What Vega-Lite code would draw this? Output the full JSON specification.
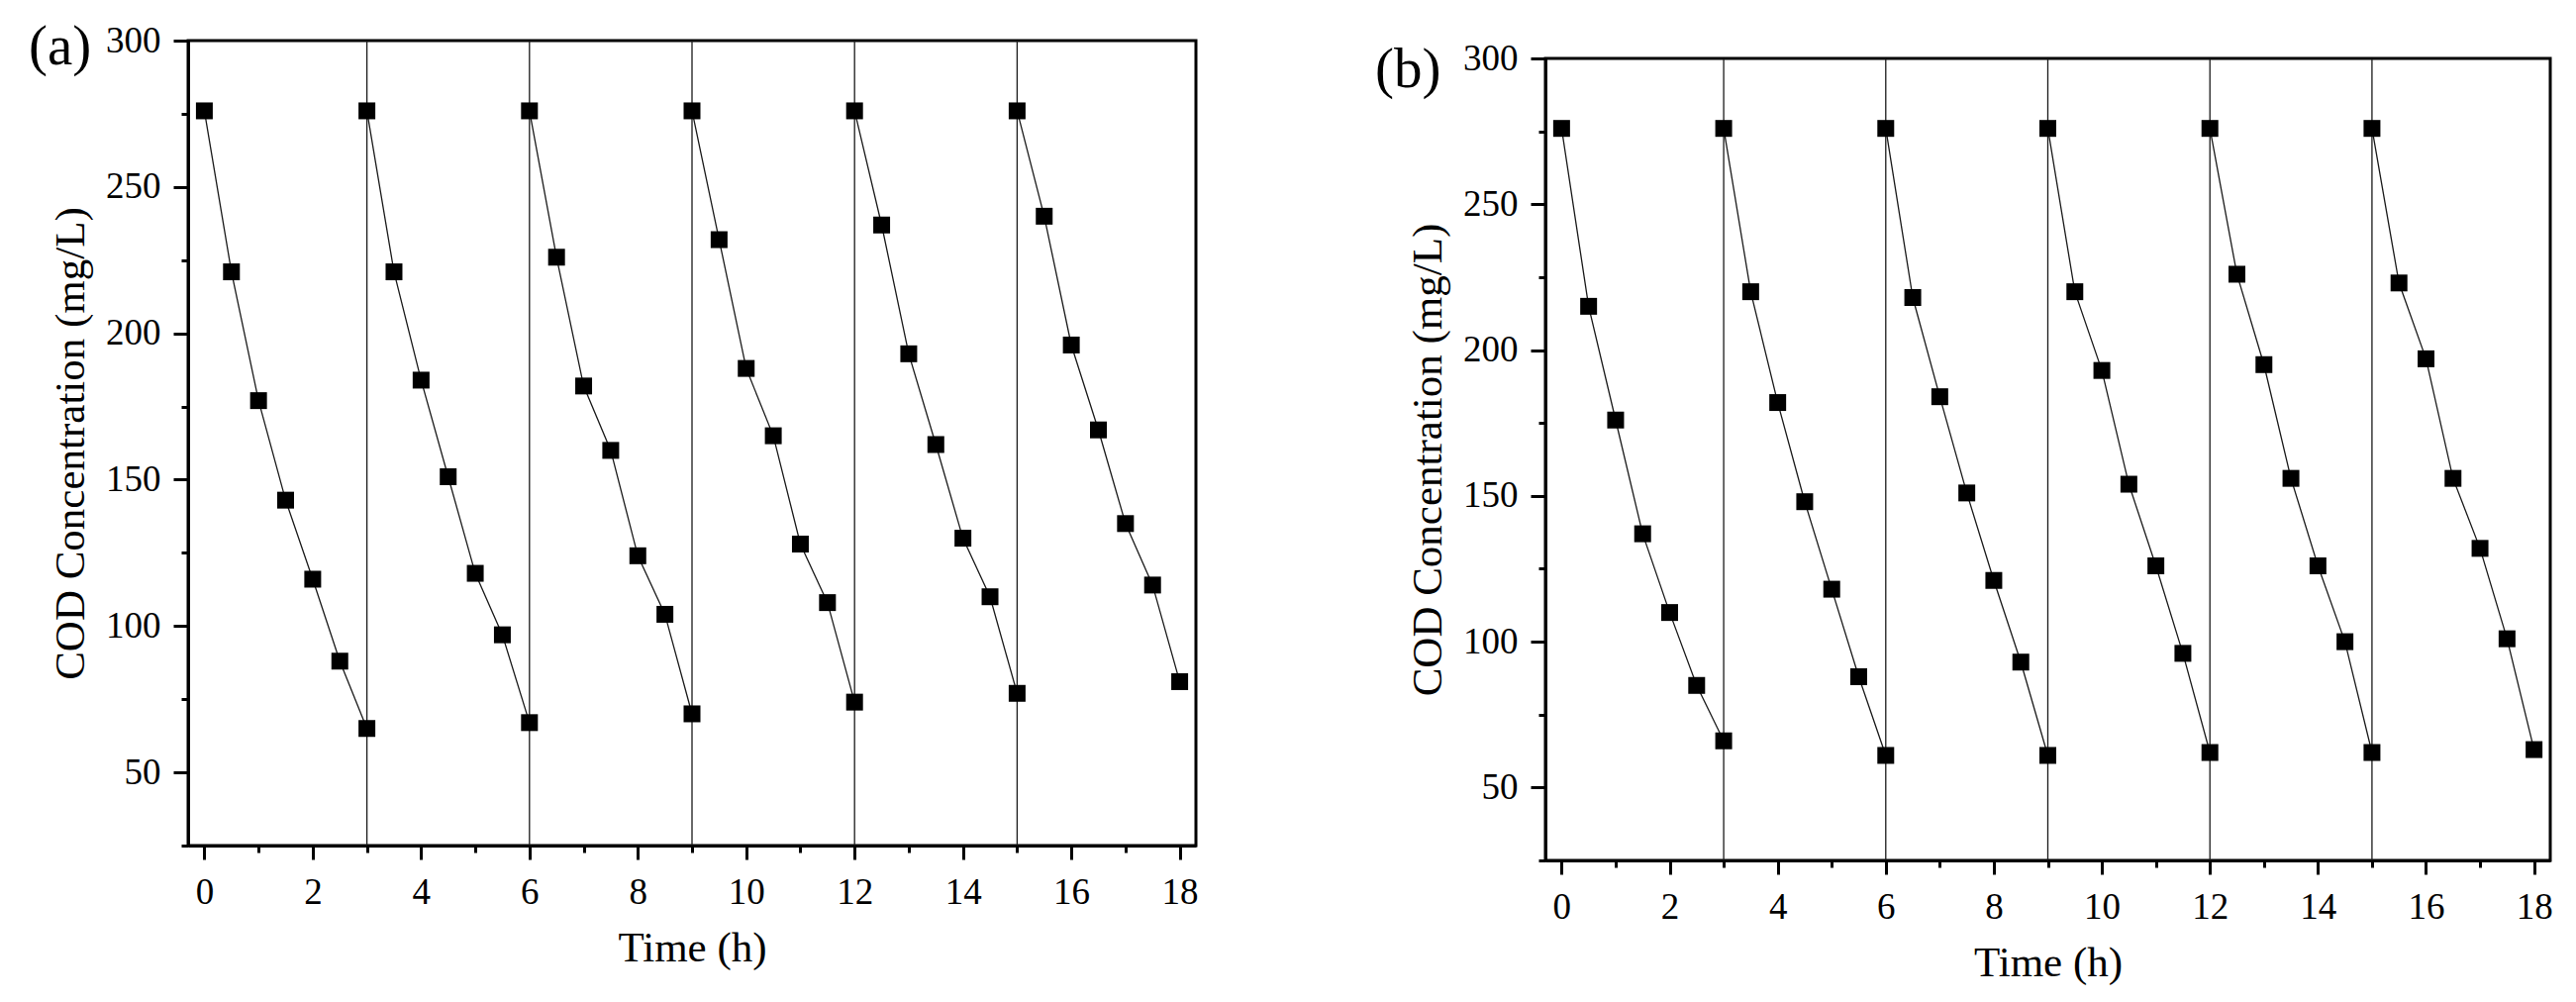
{
  "$schema": "https://vega.github.io/schema/vega-lite/v6.json",
  "background": "white",
  "padding": {"left": 27, "top": 17, "right": 20, "bottom": 10},
  "bounds": "flush",
  "spacing": 353,
  "config": {
    "font": "Liberation Serif",
    "view": {"stroke": "black", "strokeWidth": 3},
    "axis": {
      "domainColor": "black", "domainWidth": 3,
      "tickColor": "black", "tickWidth": 3,
      "grid": false,
      "labelFont": "Liberation Serif", "labelFontSize": 37, "labelColor": "black",
      "titleFont": "Liberation Serif", "titleFontSize": 43, "titleFontWeight": "normal", "titleColor": "black",
      "labelOverlap": false, "labelFlush": false, "labelBound": false
    },
    "title": {"font": "Liberation Serif", "fontSize": 57, "fontWeight": "normal", "color": "black", "anchor": "start", "frame": "group", "baseline": "alphabetic"}
  },
  "datasets": {
    "cod": [
      {"panel": "a", "cycle": 1, "t": 0, "cod": 276}, {"panel": "a", "cycle": 1, "t": 0.5, "cod": 221}, {"panel": "a", "cycle": 1, "t": 1, "cod": 177}, {"panel": "a", "cycle": 1, "t": 1.5, "cod": 143}, {"panel": "a", "cycle": 1, "t": 2, "cod": 116}, {"panel": "a", "cycle": 1, "t": 2.5, "cod": 88}, {"panel": "a", "cycle": 1, "t": 3, "cod": 65},
      {"panel": "a", "cycle": 2, "t": 3, "cod": 276}, {"panel": "a", "cycle": 2, "t": 3.5, "cod": 221}, {"panel": "a", "cycle": 2, "t": 4, "cod": 184}, {"panel": "a", "cycle": 2, "t": 4.5, "cod": 151}, {"panel": "a", "cycle": 2, "t": 5, "cod": 118}, {"panel": "a", "cycle": 2, "t": 5.5, "cod": 97}, {"panel": "a", "cycle": 2, "t": 6, "cod": 67},
      {"panel": "a", "cycle": 3, "t": 6, "cod": 276}, {"panel": "a", "cycle": 3, "t": 6.5, "cod": 226}, {"panel": "a", "cycle": 3, "t": 7, "cod": 182}, {"panel": "a", "cycle": 3, "t": 7.5, "cod": 160}, {"panel": "a", "cycle": 3, "t": 8, "cod": 124}, {"panel": "a", "cycle": 3, "t": 8.5, "cod": 104}, {"panel": "a", "cycle": 3, "t": 9, "cod": 70},
      {"panel": "a", "cycle": 4, "t": 9, "cod": 276}, {"panel": "a", "cycle": 4, "t": 9.5, "cod": 232}, {"panel": "a", "cycle": 4, "t": 10, "cod": 188}, {"panel": "a", "cycle": 4, "t": 10.5, "cod": 165}, {"panel": "a", "cycle": 4, "t": 11, "cod": 128}, {"panel": "a", "cycle": 4, "t": 11.5, "cod": 108}, {"panel": "a", "cycle": 4, "t": 12, "cod": 74},
      {"panel": "a", "cycle": 5, "t": 12, "cod": 276}, {"panel": "a", "cycle": 5, "t": 12.5, "cod": 237}, {"panel": "a", "cycle": 5, "t": 13, "cod": 193}, {"panel": "a", "cycle": 5, "t": 13.5, "cod": 162}, {"panel": "a", "cycle": 5, "t": 14, "cod": 130}, {"panel": "a", "cycle": 5, "t": 14.5, "cod": 110}, {"panel": "a", "cycle": 5, "t": 15, "cod": 77},
      {"panel": "a", "cycle": 6, "t": 15, "cod": 276}, {"panel": "a", "cycle": 6, "t": 15.5, "cod": 240}, {"panel": "a", "cycle": 6, "t": 16, "cod": 196}, {"panel": "a", "cycle": 6, "t": 16.5, "cod": 167}, {"panel": "a", "cycle": 6, "t": 17, "cod": 135}, {"panel": "a", "cycle": 6, "t": 17.5, "cod": 114}, {"panel": "a", "cycle": 6, "t": 18, "cod": 81},
      {"panel": "b", "cycle": 1, "t": 0, "cod": 276}, {"panel": "b", "cycle": 1, "t": 0.5, "cod": 215}, {"panel": "b", "cycle": 1, "t": 1, "cod": 176}, {"panel": "b", "cycle": 1, "t": 1.5, "cod": 137}, {"panel": "b", "cycle": 1, "t": 2, "cod": 110}, {"panel": "b", "cycle": 1, "t": 2.5, "cod": 85}, {"panel": "b", "cycle": 1, "t": 3, "cod": 66},
      {"panel": "b", "cycle": 2, "t": 3, "cod": 276}, {"panel": "b", "cycle": 2, "t": 3.5, "cod": 220}, {"panel": "b", "cycle": 2, "t": 4, "cod": 182}, {"panel": "b", "cycle": 2, "t": 4.5, "cod": 148}, {"panel": "b", "cycle": 2, "t": 5, "cod": 118}, {"panel": "b", "cycle": 2, "t": 5.5, "cod": 88}, {"panel": "b", "cycle": 2, "t": 6, "cod": 61},
      {"panel": "b", "cycle": 3, "t": 6, "cod": 276}, {"panel": "b", "cycle": 3, "t": 6.5, "cod": 218}, {"panel": "b", "cycle": 3, "t": 7, "cod": 184}, {"panel": "b", "cycle": 3, "t": 7.5, "cod": 151}, {"panel": "b", "cycle": 3, "t": 8, "cod": 121}, {"panel": "b", "cycle": 3, "t": 8.5, "cod": 93}, {"panel": "b", "cycle": 3, "t": 9, "cod": 61},
      {"panel": "b", "cycle": 4, "t": 9, "cod": 276}, {"panel": "b", "cycle": 4, "t": 9.5, "cod": 220}, {"panel": "b", "cycle": 4, "t": 10, "cod": 193}, {"panel": "b", "cycle": 4, "t": 10.5, "cod": 154}, {"panel": "b", "cycle": 4, "t": 11, "cod": 126}, {"panel": "b", "cycle": 4, "t": 11.5, "cod": 96}, {"panel": "b", "cycle": 4, "t": 12, "cod": 62},
      {"panel": "b", "cycle": 5, "t": 12, "cod": 276}, {"panel": "b", "cycle": 5, "t": 12.5, "cod": 226}, {"panel": "b", "cycle": 5, "t": 13, "cod": 195}, {"panel": "b", "cycle": 5, "t": 13.5, "cod": 156}, {"panel": "b", "cycle": 5, "t": 14, "cod": 126}, {"panel": "b", "cycle": 5, "t": 14.5, "cod": 100}, {"panel": "b", "cycle": 5, "t": 15, "cod": 62},
      {"panel": "b", "cycle": 6, "t": 15, "cod": 276}, {"panel": "b", "cycle": 6, "t": 15.5, "cod": 223}, {"panel": "b", "cycle": 6, "t": 16, "cod": 197}, {"panel": "b", "cycle": 6, "t": 16.5, "cod": 156}, {"panel": "b", "cycle": 6, "t": 17, "cod": 132}, {"panel": "b", "cycle": 6, "t": 17.5, "cod": 101}, {"panel": "b", "cycle": 6, "t": 18, "cod": 63}
    ],
    "resets": [{"t": 3}, {"t": 6}, {"t": 9}, {"t": 12}, {"t": 15}]
  },
  "hconcat": [
    {
      "width": 1018,
      "height": 813,
      "title": {"text": "(a)", "dx": -161, "dy": 59},
      "layer": [
        {
          "data": {"name": "cod"},
          "transform": [{"filter": "datum.panel === 'a'"}],
          "mark": {"type": "line", "color": "#1a1a1a", "strokeWidth": 1.3},
          "encoding": {
            "x": {"field": "t", "type": "quantitative", "title": "Time (h)",
              "scale": {"domain": [-0.3, 18.3], "nice": false, "zero": false},
              "axis": {"values": [0, 1, 2, 3, 4, 5, 6, 7, 8, 9, 10, 11, 12, 13, 14, 15, 16, 17, 18],
                "tickSize": {"condition": {"test": "datum.value % 2 !== 0", "value": 7}, "value": 14},
                "labelExpr": "datum.value % 2 === 0 ? datum.label : ''",
                "labelPadding": 15, "titlePadding": 17}},
            "y": {"field": "cod", "type": "quantitative", "title": "COD Concentration (mg/L)",
              "scale": {"domain": [25, 300], "nice": false, "zero": false},
              "axis": {"values": [25, 50, 75, 100, 125, 150, 175, 200, 225, 250, 275, 300],
                "tickSize": {"condition": {"test": "datum.value % 50 !== 0", "value": 7}, "value": 15},
                "labelExpr": "datum.value % 50 === 0 ? datum.label : ''",
                "labelPadding": 13, "titlePadding": 13}},
            "detail": {"field": "cycle", "type": "nominal"}
          }
        },
        {
          "data": {"name": "resets"},
          "mark": {"type": "rule", "color": "#1a1a1a", "strokeWidth": 1.3},
          "encoding": {"x": {"field": "t", "type": "quantitative", "title": "Time (h)"}}
        },
        {
          "data": {"name": "cod"},
          "transform": [{"filter": "datum.panel === 'a'"}],
          "mark": {"type": "point", "shape": "square", "filled": true, "size": 289, "color": "black", "opacity": 1, "strokeWidth": 0},
          "encoding": {
            "x": {"field": "t", "type": "quantitative", "title": "Time (h)"},
            "y": {"field": "cod", "type": "quantitative", "title": "COD Concentration (mg/L)"}
          }
        }
      ]
    },
    {
      "vconcat": [
        {
          "width": 10,
          "height": 18,
          "view": {"stroke": null},
          "data": {"values": [{}]},
          "mark": {"type": "point", "opacity": 0},
          "encoding": {}
        },
        {
          "width": 1015,
          "height": 810,
          "title": {"text": "(b)", "dx": -172, "dy": 64},
          "layer": [
            {
              "data": {"name": "cod"},
              "transform": [{"filter": "datum.panel === 'b'"}],
              "mark": {"type": "line", "color": "#1a1a1a", "strokeWidth": 1.3},
              "encoding": {
                "x": {"field": "t", "type": "quantitative", "title": "Time (h)",
                  "scale": {"domain": [-0.3, 18.3], "nice": false, "zero": false},
                  "axis": {"values": [0, 1, 2, 3, 4, 5, 6, 7, 8, 9, 10, 11, 12, 13, 14, 15, 16, 17, 18],
                    "tickSize": {"condition": {"test": "datum.value % 2 !== 0", "value": 7}, "value": 14},
                    "labelExpr": "datum.value % 2 === 0 ? datum.label : ''",
                    "labelPadding": 15, "titlePadding": 17}},
                "y": {"field": "cod", "type": "quantitative", "title": "COD Concentration (mg/L)",
                  "scale": {"domain": [25, 300], "nice": false, "zero": false},
                  "axis": {"values": [25, 50, 75, 100, 125, 150, 175, 200, 225, 250, 275, 300],
                    "tickSize": {"condition": {"test": "datum.value % 50 !== 0", "value": 7}, "value": 15},
                    "labelExpr": "datum.value % 50 === 0 ? datum.label : ''",
                    "labelPadding": 13, "titlePadding": 13}},
                "detail": {"field": "cycle", "type": "nominal"}
              }
            },
            {
              "data": {"name": "resets"},
              "mark": {"type": "rule", "color": "#1a1a1a", "strokeWidth": 1.3},
              "encoding": {"x": {"field": "t", "type": "quantitative", "title": "Time (h)"}}
            },
            {
              "data": {"name": "cod"},
              "transform": [{"filter": "datum.panel === 'b'"}],
              "mark": {"type": "point", "shape": "square", "filled": true, "size": 289, "color": "black", "opacity": 1, "strokeWidth": 0},
              "encoding": {
                "x": {"field": "t", "type": "quantitative", "title": "Time (h)"},
                "y": {"field": "cod", "type": "quantitative", "title": "COD Concentration (mg/L)"}
              }
            }
          ]
        }
      ],
      "spacing": 0,
      "bounds": "flush"
    }
  ]
}
